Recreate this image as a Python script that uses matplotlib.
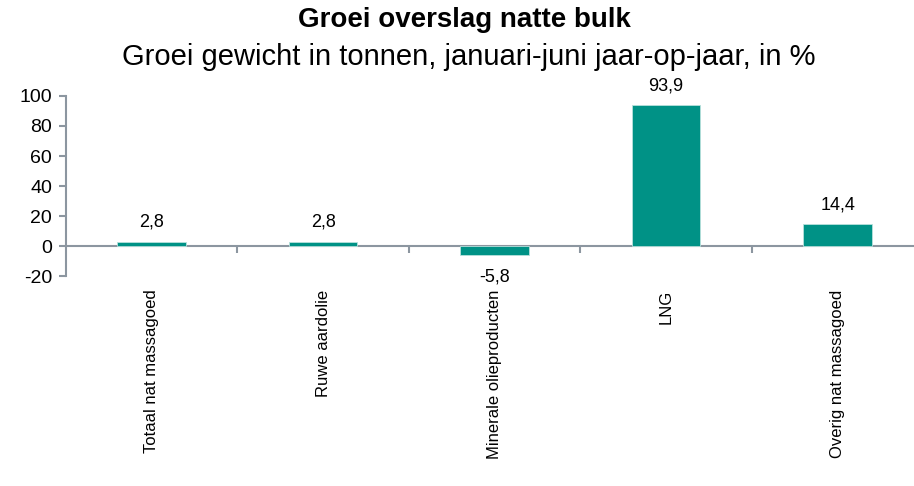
import matplotlib.pyplot as plt
from matplotlib.transforms import blended_transform_factory

plt.rcParams['font.family'] = ['Liberation Sans', 'DejaVu Sans']

categories = ['Totaal nat massagoed', 'Ruwe aardolie', 'Minerale olieproducten',
              'LNG', 'Overig nat massagoed']
groei = [2.8, 2.8, -5.8, 93.9, 14.4]
yticks = [-20, 0, 20, 40, 60, 80, 100]

bar_color = '#009286'
axis_color = '#8c96a0'

fig = plt.figure(figsize=(9.14, 4.86), dpi=100)
# plot area runs slightly past the right edge of the figure
ax = fig.add_axes([0.0722, 0.432, 0.938, 0.3705])

x = list(range(len(categories)))
ax.bar(x, groei, width=0.40, color=bar_color, edgecolor='#b8e0dc', linewidth=0.6, zorder=3)

for xi, v in zip(x, groei):
    txt = f'{v:.1f}'.replace('.', ',')
    if v >= 0:
        ax.annotate(txt, (xi, v), xytext=(0, 8), textcoords='offset points',
                    ha='center', va='bottom', fontsize=13)
    else:
        ax.annotate(txt, (xi, v), xytext=(0, -10), textcoords='offset points',
                    ha='center', va='top', fontsize=13)

ax.set_xlim(-0.5, len(categories) - 0.5)
ax.set_ylim(-20, 100)
ax.set_yticks(yticks)
ax.set_yticklabels([str(t) for t in yticks], fontsize=14)

# spines: y axis on the left, x axis running through zero
for side in ['top', 'right']:
    ax.spines[side].set_visible(False)
ax.spines['left'].set_color(axis_color)
ax.spines['left'].set_linewidth(1.5)
ax.spines['bottom'].set_position(('data', 0))
ax.spines['bottom'].set_color(axis_color)
ax.spines['bottom'].set_linewidth(1.5)
ax.tick_params(axis='y', direction='out', length=5, width=1.5, color=axis_color, pad=5)

# category boundaries as ticks, labels placed below the plot area
ax.set_xticks([i + 0.5 for i in range(len(categories) - 1)])
ax.set_xticklabels([])
ax.tick_params(axis='x', direction='out', length=5, width=1.5, color=axis_color)

trans = blended_transform_factory(ax.transData, ax.transAxes)
for xi, name in zip(x, categories):
    ax.text(xi, -0.075, name, rotation=90, ha='center', va='top',
            fontsize=12, transform=trans)

fig.text(0.508, 0.958, 'Groei overslag natte bulk', ha='center', va='center',
         fontsize=20, fontweight='bold')
fig.text(0.513, 0.882, 'Groei gewicht in tonnen, januari-juni jaar-op-jaar, in %',
         ha='center', va='center', fontsize=21)

fig.savefig('out.png', dpi=100)
